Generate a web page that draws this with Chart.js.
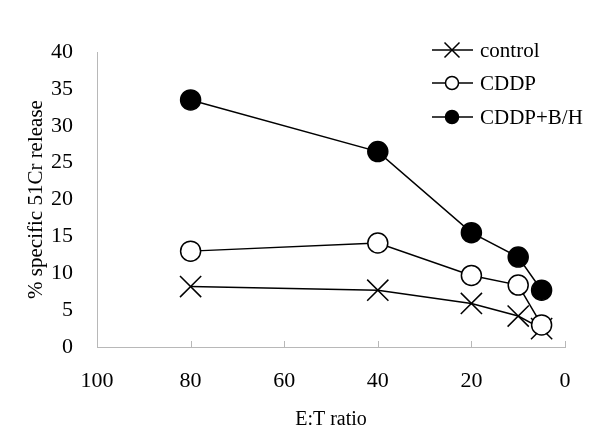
<!DOCTYPE html>
<html>
<head>
<meta charset="utf-8">
<script src="https://cdn.jsdelivr.net/npm/chart.js@4/dist/chart.umd.min.js"></script>
<style>
  html, body { margin: 0; padding: 0; background: #fff; }
  #wrap { width: 600px; height: 432px; }
</style>
</head>
<body>
<div id="wrap"><canvas id="c" width="600" height="432"></canvas></div>
<script>
'use strict';

// E:T ratios (x) and % specific release per group
const ratios      = [80, 40, 20, 10, 5];
const controlVals = [8.2, 7.7, 5.9, 4.2, 2.5];
const cddpVals    = [13.0, 14.1, 9.7, 8.4, 3.0];
const cddpBHVals  = [33.5, 26.5, 15.5, 12.2, 7.7];
const seriesNames = ['control', 'CDDP', 'CDDP+B/H'];
const xTicks      = [100, 80, 60, 40, 20, 0];

const FONT = "'Liberation Serif', 'Times New Roman', serif";
const AXIS_GREY = '#b8b8b8';

const toPoints = vals => vals.map((v, i) => ({ x: ratios[i], y: v }));

// Excel-style legend: short line with marker, then label
const legendPlugin = {
  id: 'lineLegend',
  afterDraw(chart) {
    const ctx = chart.ctx;
    const rows = [
      { y: 50,  style: 'x' },
      { y: 83,  style: 'open' },
      { y: 117, style: 'filled' },
    ];
    ctx.save();
    ctx.strokeStyle = '#000';
    ctx.lineWidth = 1.5;
    ctx.font = '21px ' + FONT;
    ctx.fillStyle = '#000';
    ctx.textBaseline = 'middle';
    rows.forEach((r, i) => {
      ctx.beginPath();
      ctx.moveTo(432, r.y);
      ctx.lineTo(473, r.y);
      ctx.stroke();
      const cx = 452;
      if (r.style === 'x') {
        const s = 7.5;
        ctx.beginPath();
        ctx.moveTo(cx - s, r.y - s); ctx.lineTo(cx + s, r.y + s);
        ctx.moveTo(cx - s, r.y + s); ctx.lineTo(cx + s, r.y - s);
        ctx.stroke();
      } else {
        ctx.beginPath();
        ctx.arc(cx, r.y, 6.5, 0, Math.PI * 2);
        ctx.fillStyle = r.style === 'filled' ? '#000' : '#fff';
        ctx.fill();
        ctx.stroke();
        ctx.fillStyle = '#000';
      }
      ctx.fillText(seriesNames[i], 480, r.y + 1);
    });
    ctx.restore();
  }
};

// small inward tick marks on the x axis
const xTickMarks = {
  id: 'xTickMarks',
  afterDraw(chart) {
    const ctx = chart.ctx;
    const sx = chart.scales.x;
    const bottom = chart.chartArea.bottom;
    ctx.save();
    ctx.strokeStyle = AXIS_GREY;
    ctx.lineWidth = 1;
    xTicks.forEach(t => {
      const px = Math.round(sx.getPixelForValue(t)) + 0.5;
      ctx.beginPath();
      ctx.moveTo(px, bottom);
      ctx.lineTo(px, bottom - 6);
      ctx.stroke();
    });
    ctx.restore();
  }
};

const lineCommon = {
  borderColor: '#000',
  borderWidth: 1.5,
  pointBorderColor: '#000',
  pointBorderWidth: 1.5,
  showLine: true,
  tension: 0,
};

new Chart(document.getElementById('c'), {
  type: 'scatter',
  data: {
    datasets: [
      Object.assign({}, lineCommon, {
        label: seriesNames[0],
        data: toPoints(controlVals),
        pointStyle: 'crossRot',
        pointRadius: 15,
        pointBackgroundColor: '#000',
        order: 3,
      }),
      Object.assign({}, lineCommon, {
        label: seriesNames[1],
        data: toPoints(cddpVals),
        pointStyle: 'circle',
        pointRadius: 10,
        pointBackgroundColor: '#fff',
        order: 2,
      }),
      Object.assign({}, lineCommon, {
        label: seriesNames[2],
        data: toPoints(cddpBHVals),
        pointStyle: 'circle',
        pointRadius: 10,
        pointBackgroundColor: '#000',
        order: 1,
      }),
    ],
  },
  options: {
    responsive: false,
    animation: false,
    layout: { padding: { top: 52, right: 35, left: 0, bottom: 0 } },
    plugins: {
      legend: { display: false },
      tooltip: { enabled: false },
    },
    scales: {
      x: {
        type: 'linear',
        reverse: true,
        min: 0,
        max: 100,
        afterBuildTicks: axis => { axis.ticks = xTicks.map(v => ({ value: v })); },
        afterFit: axis => { axis.height = 85; },
        grid: { display: false, drawTicks: false },
        border: { display: true, color: AXIS_GREY, width: 1 },
        ticks: {
          color: '#000',
          font: { family: FONT, size: 22 },
          padding: 21,
          maxRotation: 0,
        },
        title: {
          display: true,
          text: 'E:T ratio',
          color: '#000',
          font: { family: FONT, size: 20 },
          padding: { top: 4, bottom: 0 },
        },
      },
      y: {
        min: 0,
        max: 40,
        afterFit: axis => { axis.width = 97; },
        grid: { display: false, drawTicks: false },
        border: { display: true, color: AXIS_GREY, width: 1 },
        ticks: {
          stepSize: 5,
          color: '#000',
          font: { family: FONT, size: 22 },
          padding: 24,
        },
        title: {
          display: true,
          text: '% specific 51Cr release',
          color: '#000',
          font: { family: FONT, size: 21 },
          padding: { top: 24, bottom: 0 },
        },
      },
    },
  },
  plugins: [legendPlugin, xTickMarks],
});
</script>
</body>
</html>
